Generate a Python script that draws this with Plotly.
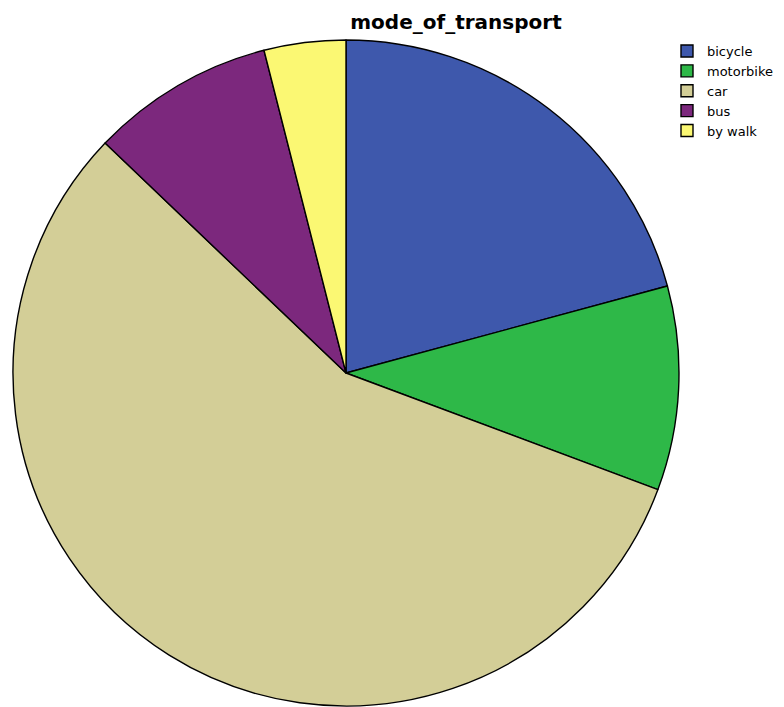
import plotly.graph_objects as go

labels = ["bicycle", "motorbike", "car", "bus", "by walk"]
values = [21, 10, 57, 9, 4]
colors = ["#3E58AC", "#2EB848", "#D3CE97", "#7C287D", "#FBF873"]

W, H = 784, 707
cx, cy, r = 346, 373, 333

fig = go.Figure(go.Pie(
    labels=labels,
    values=values,
    sort=False,
    direction="clockwise",
    rotation=0,
    textinfo="none",
    hoverinfo="label+percent",
    marker=dict(colors=colors, line=dict(color="black", width=1.4)),
    domain=dict(x=[(cx - r) / W, (cx + r) / W],
                y=[(H - cy - r) / H, (H - cy + r) / H]),
))

fig.update_layout(
    width=W, height=H,
    margin=dict(l=0, r=0, t=0, b=0),
    paper_bgcolor="white",
    plot_bgcolor="white",
    title=dict(text="<b>mode_of_transport</b>", x=456 / W, xanchor="center",
               y=1 - 22 / H, yanchor="middle",
               font=dict(family="DejaVu Sans", size=20, color="black")),
    legend=dict(x=667 / W, xanchor="left", y=1 - 36 / H, yanchor="top",
                font=dict(family="DejaVu Sans", size=13, color="black"),
                itemwidth=30, tracegroupgap=0, bgcolor="rgba(0,0,0,0)"),
    showlegend=True,
)

fig.write_html("out.html")
